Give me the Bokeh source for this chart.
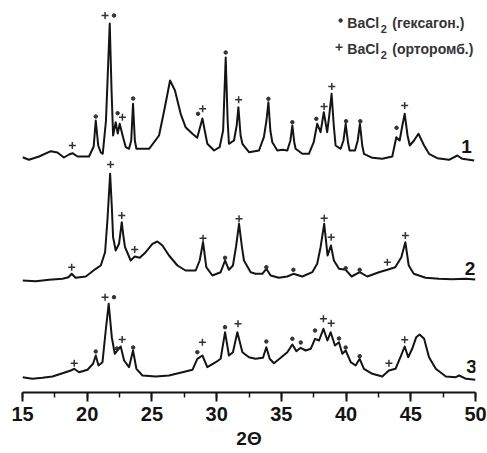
from bokeh.plotting import figure
from bokeh.models import Range1d, SingleIntervalTicker
from bokeh.core.properties import value
from bokeh.embed import file_html
from bokeh.resources import INLINE

# ---- pattern 1 ----
x1 = [15.0, 15.5, 16.28, 17.19, 17.7, 18.2, 18.6, 18.86, 19.25, 20.14, 20.5, 20.66, 20.85, 21.05, 21.2,
      21.45, 21.6, 21.74, 21.88, 22.0, 22.2, 22.36, 22.51, 22.77, 22.98, 23.23, 23.4, 23.54, 23.68, 23.8,
      24.78, 25.55, 26.0, 26.4, 26.78, 27.22, 27.6, 28.13, 28.5, 28.9, 29.28, 29.8, 30.23, 30.5, 30.7,
      30.85, 30.95, 31.34, 31.55, 31.68, 31.85, 31.99, 32.5, 33.27, 33.65, 33.85, 34.0, 34.15, 34.3, 34.69,
      35.08, 35.46, 35.7, 35.85, 36.0, 36.1, 36.62, 37.13, 37.5, 37.77, 38.03, 38.28, 38.54, 38.7, 38.88,
      39.05, 39.19, 39.58, 39.8, 39.97, 40.15, 40.27, 40.69, 40.9, 41.07, 41.25, 41.38, 42.03, 42.8, 43.57,
      43.88, 44.14, 44.35, 44.53, 44.75, 44.92, 45.25, 45.59, 46.03, 46.41, 47.05, 47.95, 48.6, 48.98, 49.9]
y1 = [3.3, 0.7, 4, 9.3, 8, 3, 6, 7.3, 4, 4, 14, 40, 15, 8, 6.7,
      40, 90, 137, 70, 25, 38.3, 27, 36.7, 23.3, 13.3, 11.7, 20, 56.7, 20, 11.7,
      11.7, 25, 53.3, 80, 70, 46.7, 33.3, 26.7, 22.7, 42, 16.7, 10, 13.3, 30, 103,
      40, 16.7, 20, 35, 53.3, 25, 16.7, 8.3, 10, 23.3, 40, 58.3, 30, 18.3, 10,
      10.7, 10, 20, 35, 18, 11.7, 6.7, 6.7, 18.3, 36.7, 28.3, 48.3, 28.3, 45, 66.7,
      35, 15, 11.7, 20, 36.7, 18, 10, 10, 20, 36.7, 15, 6.7, 2.7, 1.7, 4,
      23.3, 20, 35, 46.7, 25, 15, 20, 26.7, 15, 6.7, 2.3, 0.7, 5, 1.7, 0]
hex1_x = [20.66, 22.07, 22.35, 23.55, 28.56, 30.7, 34.0, 35.85, 37.7, 40.0, 41.1, 43.9]
hex1_y = [44, 145, 47.3, 62, 46.7, 108, 61.7, 38.3, 41.7, 39.3, 39.3, 32.7]
orth1_x = [18.85, 21.38, 22.72, 28.92, 31.7, 38.3, 38.9, 44.53]
orth1_y = [15, 145, 43.3, 51.7, 60.7, 54, 74, 55]

# ---- pattern 2 ----
x2 = [15.0, 16.03, 17.05, 18.09, 18.55, 18.8, 19.1, 19.89, 20.66, 21.05, 21.38, 21.56, 21.77, 21.9, 22.0,
      22.2, 22.46, 22.67, 22.8, 22.92, 23.36, 23.67, 24.06, 24.52, 25.04, 25.42, 25.81, 26.32, 26.97, 27.6,
      28.38, 28.69, 28.95, 29.2, 29.67, 30.31, 30.65, 30.95, 31.26, 31.5, 31.73, 31.95, 32.11, 32.63, 33.0,
      33.53, 33.84, 34.17, 34.81, 35.46, 35.93, 36.62, 37.39, 37.77, 38.03, 38.31, 38.57, 38.83, 39.06, 39.45,
      39.97, 40.43, 41.05, 41.64, 42.54, 43.19, 43.8, 44.27, 44.58, 44.84, 45.23, 46.14, 47.17, 48.2, 49.23, 50.0]
y2 = [1, 0.3, 1.7, 2.7, 4.3, 7.7, 3.7, 5, 12.7, 16, 29.3, 61, 107.7, 75, 44.3,
      31, 37.7, 59.3, 45, 34.3, 21, 25, 23.7, 29.3, 37.7, 40, 36, 26, 16, 11,
      11, 21, 39.3, 14.3, 6, 9.3, 21, 11.7, 16, 35, 57.7, 35, 21, 9.3, 7.7,
      7.7, 12.7, 6, 3.7, 5, 7.7, 5, 9.3, 17.7, 34.3, 57.7, 26, 36, 21, 12.7,
      11.7, 5, 9.3, 5, 9.3, 11.7, 14.3, 24.3, 39.3, 16, 7.7, 3.7, 2.7, 2.3, 2.7, 2]
hex2_x = [30.65, 33.84, 35.93, 39.97, 41.05]
hex2_y = [23.7, 14.3, 11.7, 13.3, 11.7]
orth2_x = [18.8, 21.8, 22.67, 23.67, 28.95, 31.73, 38.31, 38.85, 43.19, 44.58]
orth2_y = [14.3, 117, 66, 32, 43.3, 62.7, 63.3, 44.3, 19.3, 46]

# ---- pattern 3 ----
x3 = [15.0, 15.77, 16.54, 17.32, 18.09, 18.73, 18.99, 19.37, 20.02, 20.45, 20.66, 20.87, 21.18, 21.43, 21.66,
      21.9, 22.13, 22.33, 22.59, 22.85, 23.23, 23.54, 23.8, 24.27, 25.29, 26.32, 27.35, 28.13, 28.51, 28.9,
      29.28, 29.93, 30.31, 30.65, 30.95, 31.26, 31.6, 31.99, 32.5, 33.0, 33.58, 33.84, 34.1, 34.43, 34.95,
      35.46, 35.85, 36.16, 36.49, 36.88, 37.27, 37.6, 37.91, 38.25, 38.56, 38.81, 39.14, 39.45, 39.71, 39.97,
      40.36, 40.74, 41.05, 41.38, 42.03, 42.8, 43.31, 43.82, 44.2, 44.53, 44.8, 45.11, 45.42, 45.68, 46.03,
      46.41, 46.93, 47.71, 48.48, 48.74, 49.27, 50.0]
y3 = [3.3, 1.7, 2.7, 4, 7.3, 10, 11.7, 8.3, 10.7, 16.7, 25, 15, 18.3, 50, 76.7,
      43.3, 26.7, 30, 34, 20, 13.3, 30, 11.7, 5, 4, 5, 8.3, 10.7, 21.7, 25,
      13.3, 18.3, 21.7, 48.3, 25, 28.3, 48.3, 28.3, 23.3, 21.7, 22.7, 33.3, 21.7, 17.3, 22.7,
      28.3, 36, 29.3, 32.7, 30, 31.7, 41.7, 40, 51.7, 40, 48.3, 35, 38.3, 26.7, 30,
      18.3, 15, 21.7, 11.7, 6.7, 4, 10, 11.7, 23.3, 34, 23.3, 31.7, 43.3, 46, 41.7,
      23.3, 11.7, 4, 3.3, 5, 1.7, 0.7]
hex3_x = [20.66, 22.07, 22.3, 23.55, 28.51, 30.65, 33.84, 35.85, 36.5, 37.6, 39.45, 39.97, 41.05]
hex3_y = [29, 83.3, 32, 33, 28.3, 53.3, 39, 41.7, 38, 50, 42, 33, 24.3]
orth3_x = [19.0, 21.38, 22.7, 28.9, 31.65, 38.25, 38.85, 43.31, 44.53]
orth3_y = [17.3, 83.3, 41, 38.3, 56.7, 61.7, 57.3, 17.3, 40.7]

curve_labels = ["1", "2", "3"]
x_ticks_interval = 5
x_label = "2\u0398"
legend_names = ["(гексагон.)", "(орторомб.)"]

patterns = [
    (x1, y1, hex1_x, hex1_y, orth1_x, orth1_y),
    (x2, y2, hex2_x, hex2_y, orth2_x, orth2_y),
    (x3, y3, hex3_x, hex3_y, orth3_x, orth3_y),
]
offsets = [232, 111, 12]
label_pos = [(49.31, 246), (49.58, 124), (49.7, 26)]

FONT = "Liberation Sans"
INK = "#141414"

p = figure(width=487, height=453, x_range=Range1d(15, 50), y_range=Range1d(0, 392),
           output_backend="svg", toolbar_location=None, y_axis_location=None,
           min_border_left=22, min_border_right=12, min_border_top=0, min_border_bottom=61)
p.outline_line_color = None
p.xgrid.visible = False
p.ygrid.visible = False
p.background_fill_color = "white"

ax = p.xaxis[0]
ax.ticker = SingleIntervalTicker(interval=x_ticks_interval, num_minor_ticks=2)
ax.axis_line_width = 2
ax.axis_line_color = INK
ax.major_tick_line_width = 2
ax.major_tick_line_color = INK
ax.major_tick_in = 0
ax.major_tick_out = 9
ax.minor_tick_line_width = 1.5
ax.minor_tick_line_color = INK
ax.minor_tick_in = 0
ax.minor_tick_out = 5
ax.major_label_text_font = FONT
ax.major_label_text_font_style = "bold"
ax.major_label_text_font_size = "20px"
ax.major_label_text_color = INK
ax.major_label_standoff = 5
ax.axis_label = x_label
ax.axis_label_text_font = FONT
ax.axis_label_text_font_style = "bold"
ax.axis_label_text_font_size = "19px"
ax.axis_label_text_color = INK
ax.axis_label_standoff = 4

for (xs, ys, hx, hy, ox, oy), off, lab, (lx, ly) in zip(patterns, offsets, curve_labels, label_pos):
    p.line(xs, [off + v for v in ys], line_width=2, line_color=INK, line_join="round")
    p.scatter(hx, [off + v for v in hy], marker="circle", size=3.5, fill_color="#333", line_color="#333")
    p.scatter(ox, [off + v for v in oy], marker="cross", size=7, line_color="#333", line_width=1.5)
    p.text(x=[lx], y=[ly], text=[lab], text_align="center", text_baseline="middle",
           text_font=value(FONT), text_font_style="bold", text_font_size="19px", text_color=INK)

# legend
p.scatter([39.58], [372], marker="circle", size=3.5, fill_color="#333", line_color="#333")
p.scatter([39.46], [345.3], marker="cross", size=7, line_color="#333", line_width=1.5)
for yy, name in zip([370, 344], legend_names):
    p.text(x=[40.10], y=[yy], text=["BaCl"], text_align="left", text_baseline="middle",
           text_font=value(FONT), text_font_style="bold", text_font_size="14px", text_color="#333")
    p.text(x=[42.67], y=[yy - 6], text=["2"], text_align="left", text_baseline="middle",
           text_font=value(FONT), text_font_style="bold", text_font_size="11px", text_color="#333")
    p.text(x=[43.57], y=[yy], text=[name], text_align="left", text_baseline="middle",
           text_font=value(FONT), text_font_style="bold", text_font_size="14px", text_color="#333")

open("out.html", "w").write(file_html(p, INLINE))
